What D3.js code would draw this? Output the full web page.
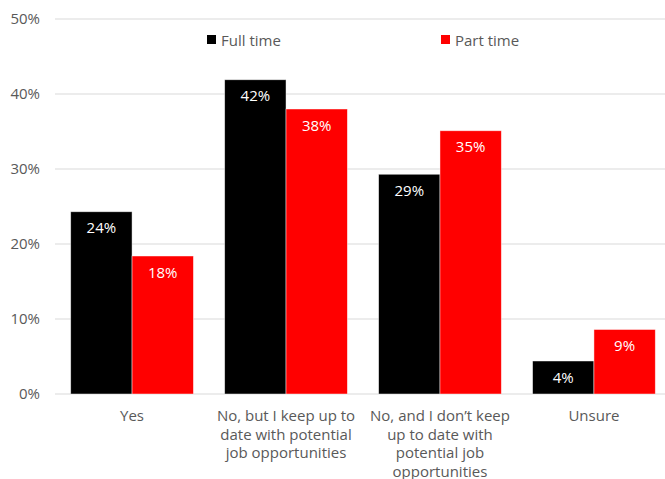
<!DOCTYPE html>
<html>
<head>
<meta charset="utf-8">
<script src="https://cdn.jsdelivr.net/npm/d3@7"></script>
<style>
  html, body { margin: 0; padding: 0; background: #fff; }
  svg { display: block; font-family: "Open Sans", "Noto Sans", sans-serif; }
</style>
</head>
<body>
<svg id="chart" width="665" height="479"></svg>
<script>
// Survey answers and the share of each group giving them
const categories = [
  ["Yes"],
  ["No, but I keep up to", "date with potential", "job opportunities"],
  ["No, and I don\u2019t keep", "up to date with", "potential job", "opportunities"],
  ["Unsure"]
];
const seriesNames = ["Full time", "Part time"];
const fullTime = [0.243, 0.419, 0.293, 0.044];
const partTime = [0.184, 0.380, 0.351, 0.086];
const yTicks = [0, 0.1, 0.2, 0.3, 0.4, 0.5];
const colors = ["#000000", "#ff0000"];

const svg = d3.select("#chart");
const plotLeft = 55, plotRight = 671, plotTop = 19, plotBottom = 394;
const fontSize = "15px";

const x = d3.scaleBand()
  .domain(d3.range(categories.length))
  .range([plotLeft, plotRight])
  .paddingInner(0.203)
  .paddingOuter(0.102);

const xSub = d3.scaleBand()
  .domain(seriesNames)
  .range([0, x.bandwidth()]);

const y = d3.scaleLinear().domain([0, 0.5]).range([plotBottom, plotTop]);

// Horizontal gridlines
svg.append("g")
  .selectAll("line")
  .data(yTicks)
  .join("line")
  .attr("x1", plotLeft)
  .attr("x2", plotRight)
  .attr("y1", d => y(d))
  .attr("y2", d => y(d))
  .attr("stroke", "#d9d9d9")
  .attr("stroke-width", 1);

// Y axis labels
const yAxis = svg.append("g")
  .attr("transform", `translate(${plotLeft},0)`)
  .call(d3.axisLeft(y).tickValues(yTicks).tickFormat(d3.format(".0%")).tickSize(0).tickPadding(15));
yAxis.select(".domain").remove();
yAxis.selectAll("text")
  .attr("fill", "#595959")
  .style("font-size", fontSize)
  .style("font-family", "\"Open Sans\", \"Noto Sans\", sans-serif");

// Bars and value labels
const rows = categories.map((c, i) => ({ i, values: [fullTime[i], partTime[i]] }));
const groups = svg.append("g")
  .selectAll("g")
  .data(rows)
  .join("g")
  .attr("transform", d => `translate(${x(d.i)},0)`);

groups.selectAll("rect")
  .data(d => d.values.map((v, k) => ({ v, k })))
  .join("rect")
  .attr("x", d => xSub(seriesNames[d.k]))
  .attr("width", xSub.bandwidth())
  .attr("y", d => y(d.v))
  .attr("height", d => y(0) - y(d.v))
  .attr("fill", d => colors[d.k])
  .attr("stroke", "#ffffff")
  .attr("stroke-opacity", 0.6)
  .attr("stroke-width", 0.75);

groups.selectAll("text.value")
  .data(d => d.values.map((v, k) => ({ v, k })))
  .join("text")
  .attr("class", "value")
  .attr("x", d => xSub(seriesNames[d.k]) + xSub.bandwidth() / 2)
  .attr("y", d => y(d.v) + 21.5)
  .attr("text-anchor", "middle")
  .attr("fill", "#ffffff")
  .style("font-size", fontSize)
  .text(d => Math.round(d.v * 100) + "%");

// Category labels, wrapped over several lines
const catLabels = svg.append("g")
  .selectAll("text")
  .data(categories)
  .join("text")
  .attr("text-anchor", "middle")
  .attr("fill", "#595959")
  .style("font-size", fontSize);
catLabels.each(function (lines, i) {
  d3.select(this).selectAll("tspan")
    .data(lines)
    .join("tspan")
    .attr("x", x(i) + x.bandwidth() / 2)
    .attr("y", (d, j) => 421 + j * 18.5)
    .text(d => d);
});

// Legend
const legendX = [207, 441];
const legend = svg.append("g")
  .selectAll("g")
  .data(seriesNames)
  .join("g")
  .attr("transform", (d, k) => `translate(${legendX[k]},35)`);
legend.append("rect")
  .attr("width", 9)
  .attr("height", 9)
  .attr("fill", (d, k) => colors[k]);
legend.append("text")
  .attr("x", 14)
  .attr("y", 10.5)
  .attr("fill", "#595959")
  .style("font-size", fontSize)
  .text(d => d);
</script>
</body>
</html>
